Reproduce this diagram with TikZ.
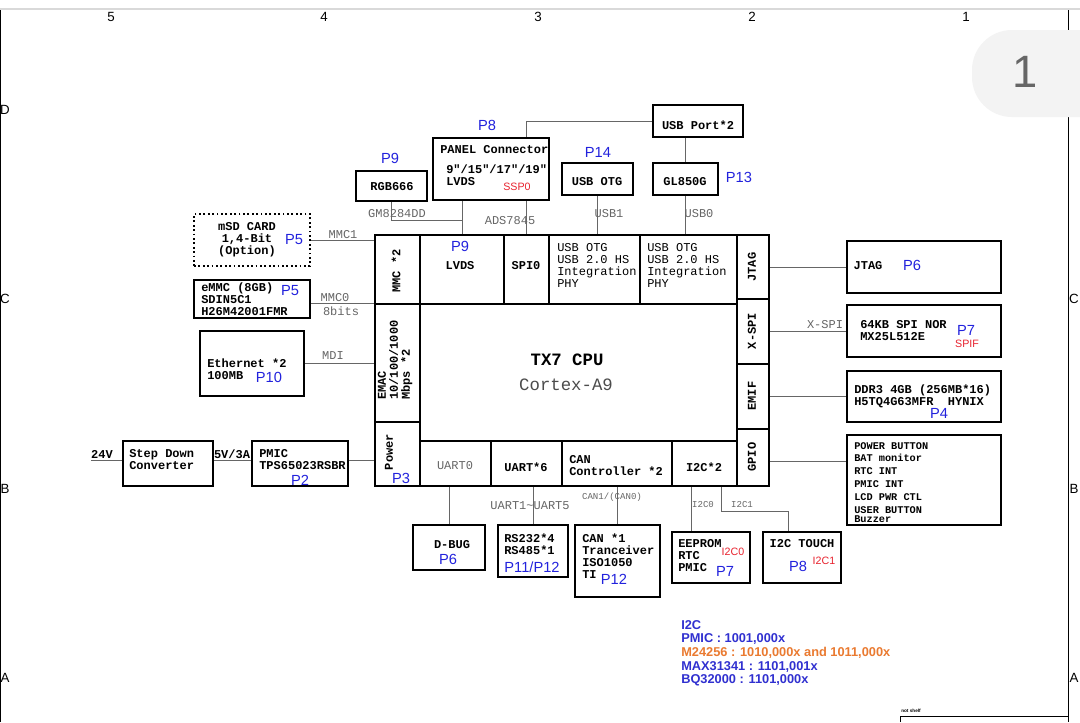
\documentclass[tikz,border=0pt]{standalone}
\usepackage{fontspec}
\setmainfont{Liberation Sans}
\newfontfamily\cour{Liberation Mono}
\usetikzlibrary{fit,calc}
\definecolor{pblue}{HTML}{2222DD}
\definecolor{pred}{HTML}{E8222E}
\definecolor{cgray}{HTML}{666666}
\definecolor{lblue}{HTML}{3030D0}
\definecolor{lorange}{HTML}{EA7A30}
\definecolor{tabgray}{HTML}{F3F3F3}
\begin{document}
\begin{tikzpicture}[x=0.75pt,y=-0.75pt,
  box/.style={draw, line width=1.5pt, inner sep=0pt},
  conn/.style={draw=cgray, line width=0.75pt},
  mono/.style={font=\cour\bfseries\fontsize{9}{9}\selectfont, inner sep=0pt, align=left},
  monor/.style={font=\cour\fontsize{9}{9}\selectfont, inner sep=0pt, align=left},
  lbl/.style={font=\cour\fontsize{9}{9}\selectfont, text=cgray, inner sep=0pt},
  slbl/.style={font=\cour\fontsize{6.8}{7}\selectfont, text=cgray, inner sep=0pt},
  plab/.style={font=\fontsize{11}{11}\selectfont, text=pblue, inner sep=0pt},
  rlab/.style={font=\fontsize{8}{8}\selectfont, text=pred, inner sep=0pt},
  edgelab/.style={font=\fontsize{10}{10}\selectfont, inner sep=0pt},
  leg/.style={font=\bfseries\fontsize{9.6}{9.6}\selectfont, text=lblue, anchor=west, inner sep=0pt}]
\useasboundingbox (0,0) rectangle (1080,722);
\fill[white] (0,0) rectangle (1080,722);
% frame
\draw[gray!30, line width=1.5pt] (0,9) -- (1080,9);
\draw[line width=0.6pt] (0.5,10) -- (0.5,722);
\draw[line width=0.6pt] (1068,10) -- (1068,722);
\fill[tabgray, rounded corners=30pt] (972,30) rectangle (1130,117);
\node[font=\fontsize{34}{34}\selectfont, text=black!60, inner sep=0pt] (tabnum) at (1025,72) {1};
\node[edgelab] (c5) at (111,17) {5};
\node[edgelab] (c4) at (324,17) {4};
\node[edgelab] (c3) at (538,17) {3};
\node[edgelab] (c2) at (752,17) {2};
\node[edgelab] (c1) at (966,17) {1};
\node[edgelab] (rD) at (5,110) {D};
\node[edgelab] (rC) at (5,299) {C};
\node[edgelab] (rB) at (5,489) {B};
\node[edgelab] (rA) at (5,678) {A};
\node[edgelab] (rC2) at (1074,299) {C};
\node[edgelab] (rB2) at (1074,489) {B};
\node[edgelab] (rA2) at (1074,678) {A};
\draw[line width=0.6pt] (900,722) -- (900,716) -- (1068,716);
\node[font=\bfseries\fontsize{3.5}{4}\selectfont, anchor=west, inner sep=0pt] (notshelf) at (901,711) {not shelf};

% ---------- top ----------
\node[box, fit={(653,105)(743,137)}] (usbport) {};
\node[mono] (usbportT) at (698,125) {USB Port*2};
\node[box, fit={(433,138)(549,200)}] (panel) {};
\node[mono, anchor=west] (panelT1) at (440,150) {PANEL Connector};
\node[mono, anchor=west] (panelT2) at (446,175) {9"/15"/17"/19"\\LVDS};
\node[rlab] (ssp0) at (517,187) {SSP0};
\node[plab] (p8a) at (487,125) {P8};
\node[box, fit={(356,171)(427,201)}] (rgb) {};
\node[mono] (rgbT) at (392,187) {RGB666};
\node[plab] (p9a) at (390,158) {P9};
\node[box, fit={(562,163)(633,195)}] (usbotg) {};
\node[mono] (usbotgT) at (597,182) {USB OTG};
\node[plab] (p14) at (598,152) {P14};
\node[box, fit={(653,163)(718,195)}] (gl) {};
\node[mono] (glT) at (685,182) {GL850G};
\node[plab] (p13) at (739,177) {P13};

% ---------- CPU ----------
\node[box, fit={(375,235)(420,304)}] (mmc) {};
\node[box, fit={(420,235)(504,304)}] (lvds) {};
\node[box, fit={(504,235)(549,304)}] (spi) {};
\node[box, fit={(549,235)(640,304)}] (otg1) {};
\node[box, fit={(640,235)(737,304)}] (otg2) {};
\node[box, fit={(737,235)(769,299)}] (jtag) {};
\node[box, fit={(737,299)(769,364)}] (xspi) {};
\node[box, fit={(737,364)(769,429)}] (emif) {};
\node[box, fit={(737,429)(769,486)}] (gpio) {};
\node[box, fit={(375,304)(420,422)}] (emac) {};
\node[box, fit={(375,422)(420,486)}] (power) {};
\node[box, fit={(420,304)(737,441)}] (cpu) {};
\node[box, fit={(420,441)(491,486)}] (uart0) {};
\node[box, fit={(491,441)(562,486)}] (uart6) {};
\node[box, fit={(562,441)(672,486)}] (can) {};
\node[box, fit={(672,441)(737,486)}] (i2c) {};

\node[mono, rotate=90] (mmcT) at (396,271) {MMC *2};
\node[plab] (p9b) at (460,246) {P9};
\node[mono] (lvdsT) at (460,266) {LVDS};
\node[mono] (spiT) at (526,266) {SPI0};
\node[monor, anchor=west] (otg1T) at (557,265) {USB OTG\\USB 2.0 HS\\Integration\\PHY};
\node[monor, anchor=west] (otg2T) at (647,265) {USB OTG\\USB 2.0 HS\\Integration\\PHY};
\node[mono, rotate=90] (jtagT) at (752,267) {JTAG};
\node[mono, rotate=90] (xspiT) at (752,331) {X-SPI};
\node[mono, rotate=90] (emifT) at (752,396) {EMIF};
\node[mono, rotate=90] (gpioT) at (752,457) {GPIO};
\node[mono, rotate=90, align=left] (emacT) at (395,360) {EMAC\\10/100/1000\\Mbps *2};
\node[mono, rotate=90] (powerT) at (389,452) {Power};
\node[plab] (p3) at (401,478) {P3};
\node[font=\cour\bfseries\fontsize{13}{13}\selectfont, inner sep=0pt] (cpuT) at (567,360) {TX7 CPU};
\node[font=\cour\fontsize{13}{13}\selectfont, text=black!70, inner sep=0pt] (cpuT2) at (566,385) {Cortex-A9};
\node[lbl] (uart0T) at (455,466) {UART0};
\node[mono] (uart6T) at (526,467) {UART*6};
\node[mono, anchor=west] (canT) at (569,466) {CAN\\Controller *2};
\node[mono] (i2cT) at (704,467) {I2C*2};

% top connectors
\draw[conn] (usbport.west) -| (panel.north -| spi.north);
\draw[conn] (panel.south -| spi.north) -- (spi.north);
\draw[conn] (panel.south -| lvds.north) -- (lvds.north);
\draw[conn] (rgb.south) |- ($(panel.south -| lvds.north)!0.6!(lvds.north)$);
\draw[conn] (usbotg.south) -- (usbotg.south |- otg1.north);
\draw[conn] (usbport.south -| gl.north) -- (gl.north);
\draw[conn] (gl.south) -- (gl.south |- otg2.north);
\node[lbl] (gmT) at (397,214) {GM8284DD};
\node[lbl] (adsT) at (510,221) {ADS7845};
\node[lbl] (usb1T) at (609,214) {USB1};
\node[lbl] (usb0T) at (699,214) {USB0};

% ---------- left ----------
\node[draw, dotted, line width=1.3pt, inner sep=0pt, fit={(194,214)(310,266)}] (msd) {};
\node[mono, align=center] (msdT) at (247,240) {mSD CARD\\1,4-Bit\\(Option)};
\node[plab] (p5a) at (294,240) {P5};
\draw[conn] (msd.east) -- (msd.east -| mmc.west);
\node[lbl] (mmc1T) at (343,235) {MMC1};

\node[box, fit={(194,280)(310,318)}] (emmc) {};
\node[mono, anchor=west] (emmcT) at (201,299) {eMMC (8GB)\\SDIN5C1\\H26M42001FMR};
\node[plab] (p5b) at (290,291) {P5};
\draw[conn] ([yshift=-3pt]emmc.east) -- ([yshift=-3pt]emmc.east -| mmc.west);
\node[lbl] (mmc0T) at (335,298) {MMC0};
\node[lbl] (bitsT) at (341,311) {8bits};

\node[box, fit={(200,331)(304,396)}] (eth) {};
\node[mono, anchor=west] (ethT) at (207,369) {Ethernet *2\\100MB};
\node[plab] (p10) at (269,377) {P10};
\draw[conn] (eth.east) -- (eth.east -| emac.west);
\node[lbl] (mdiT) at (333,356) {MDI};

\node[box, fit={(123,441)(213,486)}] (step) {};
\node[mono, anchor=west] (stepT) at (129,460) {Step Down\\Converter};
\node[box, fit={(252,441)(348,486)}] (pmic) {};
\node[mono, anchor=west] (pmicT) at (259,460) {PMIC\\TPS65023RSBR};
\node[plab] (p2) at (300,480) {P2};
\coordinate (v24) at (91,460);
\draw[conn] (v24) -- (v24 -| step.west);
\draw[conn] ([yshift=2.5pt]step.east) -- ([yshift=2.5pt]pmic.west);
\draw[conn] ([yshift=2.5pt]pmic.east) -- ([yshift=2.5pt]pmic.east -| power.west);
\node[mono] (v24T) at (102,454) {24V};
\node[mono] (v5T) at (232,454) {5V/3A};

% ---------- right ----------
\node[box, fit={(847,241)(1001,293)}] (jtagb) {};
\node[mono] (jtagbT) at (868,266) {JTAG};
\node[plab] (p6a) at (912,265) {P6};
\draw[conn] (jtag.east |- jtagb.west) -- (jtagb.west);

\node[box, fit={(847,305)(1001,357)}] (nor) {};
\node[mono, anchor=west] (norT) at (860,331) {64KB SPI NOR\\MX25L512E};
\node[plab] (p7a) at (966,330) {P7};
\node[rlab] (spif) at (967,344) {SPIF};
\draw[conn] (xspi.east |- nor.west) -- (nor.west);
\node[lbl] (xspiL) at (825,325) {X-SPI};

\node[box, fit={(847,371)(1001,422)}] (ddr) {};
\node[mono, anchor=west] (ddrT) at (854,396) {DDR3 4GB (256MB*16)\\H5TQ4G63MFR\ \ HYNIX};
\node[plab] (p4) at (939,413) {P4};
\draw[conn] (emif.east |- ddr.west) -- (ddr.west);

\node[box, fit={(847,435)(1001,525)}] (gpiob) {};
\node[font=\cour\bfseries\fontsize{7.7}{9.6}\selectfont, inner sep=0pt, align=left, anchor=north west] (gpiobT) at (854,442) {POWER BUTTON\\BAT monitor\\RTC INT\\PMIC INT\\LCD PWR CTL\\USER BUTTON\\[-2.8pt]Buzzer};
\draw[conn] (gpio.east |- 0,461) -- ([yshift=14.25pt]gpiob.west);

% ---------- bottom ----------
\node[box, fit={(413,525)(485,570)}] (dbug) {};
\node[mono] (dbugT) at (452,545) {D-BUG};
\node[plab] (p6b) at (448,559) {P6};
\draw[conn] (uart0.south -| dbug.north) -- (dbug.north);

\node[box, fit={(498,525)(568,577)}] (rs) {};
\node[mono, anchor=west] (rsT) at (504,544) {RS232*4\\RS485*1};
\node[plab] (p1112) at (532,567) {P11/P12};
\draw[conn] (uart6.south -| rs.north) -- (rs.north);
\node[lbl] (uartL) at (530,506) {UART1\textasciitilde UART5};

\node[box, fit={(575,525)(660,597)}] (canb) {};
\node[mono, anchor=west] (canbT) at (582,556) {CAN *1\\Tranceiver\\ISO1050\\TI};
\node[plab] (p12) at (614,579) {P12};
\draw[conn] (can.south -| canb.north) -- (canb.north);
\node[slbl] (canL) at (612,497) {CAN1/(CAN0)};

\node[box, fit={(672,532)(750,583)}] (eeprom) {};
\node[mono, anchor=west] (eepromT) at (678,556) {EEPROM\\RTC\\PMIC};
\node[rlab] (i2c0r) at (733,552) {I2C0};
\node[plab] (p7b) at (725,571) {P7};
\draw[conn] ([xshift=15pt]i2c.south west) -- ([xshift=15pt]i2c.south west |- eeprom.north);
\node[slbl] (i2c0L) at (703,504) {I2C0};

\node[box, fit={(763,532)(841,583)}] (touch) {};
\node[mono] (touchT) at (802,544) {I2C TOUCH};
\node[plab] (p8b) at (798,566) {P8};
\node[rlab] (i2c1r) at (824,561) {I2C1};
\draw[conn] ([xshift=38pt]i2c.south west) |- ([xshift=-10.5pt,yshift=15pt]touch.north) -- ([xshift=-10.5pt]touch.north);
\node[slbl] (i2c1L) at (742,504) {I2C1};

% ---------- legend ----------
\node[leg] (lg1) at (681,625) {I2C};
\node[leg] (lg2) at (681,639) {PMIC : 1001,000x};
\node[leg, text=lorange] (lg3) at (681,653) {M24256 : 1010,000x and 1011,000x};
\node[leg] (lg4) at (681,667) {MAX31341 : 1101,001x};
\node[leg] (lg5) at (681,680) {BQ32000 : 1101,000x};
\end{tikzpicture}
\end{document}
